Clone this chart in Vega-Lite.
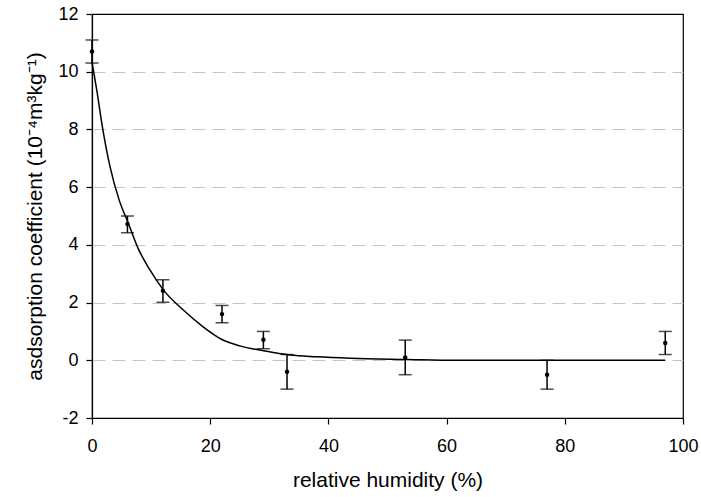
{
  "$schema": "https://vega.github.io/schema/vega-lite/v6.json",
  "width": 591,
  "height": 404,
  "autosize": {"type": "none"},
  "padding": {"left": 92, "top": 14, "right": 18, "bottom": 79},
  "background": "white",
  "config": {
    "view": {"stroke": "black", "strokeWidth": 1.2},
    "font": "Liberation Sans",
    "axis": {
      "labelFont": "Liberation Sans",
      "titleFont": "Liberation Sans",
      "labelColor": "black",
      "titleColor": "black",
      "titleFontWeight": "normal",
      "domainColor": "black",
      "domainWidth": 1.2,
      "tickColor": "black",
      "tickWidth": 1.2,
      "tickSize": 6
    }
  },
  "datasets": {
    "obs": [
      {"rh": 0, "k": 10.7, "lo": 10.3, "hi": 11.1},
      {"rh": 6, "k": 4.72, "lo": 4.42, "hi": 5.0},
      {"rh": 12, "k": 2.41, "lo": 2.01, "hi": 2.79},
      {"rh": 22, "k": 1.6, "lo": 1.3, "hi": 1.9},
      {"rh": 29, "k": 0.71, "lo": 0.4, "hi": 1.0},
      {"rh": 33, "k": -0.4, "lo": -1.0, "hi": 0.2},
      {"rh": 53, "k": 0.1, "lo": -0.5, "hi": 0.7},
      {"rh": 77, "k": -0.5, "lo": -1.0, "hi": 0.0},
      {"rh": 97, "k": 0.6, "lo": 0.2, "hi": 1.0}
    ],
    "fit": [
      {"rh": 0, "k": 10.33},
      {"rh": 0.8, "k": 9.37},
      {"rh": 1.8, "k": 8.04},
      {"rh": 3.05, "k": 6.71},
      {"rh": 4.6, "k": 5.55},
      {"rh": 6.15, "k": 4.75},
      {"rh": 7.8, "k": 3.88},
      {"rh": 9.8, "k": 3.13},
      {"rh": 12.07, "k": 2.44},
      {"rh": 15.45, "k": 1.74},
      {"rh": 18.8, "k": 1.16},
      {"rh": 21.9, "k": 0.73},
      {"rh": 25.0, "k": 0.5},
      {"rh": 29.0, "k": 0.33},
      {"rh": 33.5, "k": 0.18},
      {"rh": 38.0, "k": 0.12},
      {"rh": 43.7, "k": 0.07},
      {"rh": 53, "k": 0.03},
      {"rh": 62, "k": 0.0},
      {"rh": 77, "k": 0.0},
      {"rh": 97, "k": 0.0}
    ]
  },
  "encoding": {
    "x": {
      "field": "rh",
      "type": "quantitative",
      "scale": {"domain": [0, 100], "nice": false, "zero": false},
      "axis": {
        "title": "relative humidity (%)",
        "values": [0, 20, 40, 60, 80, 100],
        "grid": false,
        "labelFontSize": 18,
        "titleFontSize": 21,
        "labelPadding": 13,
        "titlePadding": 14,
        "labelFlush": false
      }
    },
    "y": {
      "field": "k",
      "type": "quantitative",
      "scale": {"domain": [-2, 12], "nice": false, "zero": false},
      "axis": {
        "title": "asdsorption coefficient (10⁻⁴m³kg⁻¹)",
        "values": [-2, 0, 2, 4, 6, 8, 10, 12],
        "labelExpr": "'' + datum.value",
        "grid": true,
        "gridColor": "#c4c4c4",
        "gridDash": [13, 7],
        "gridWidth": 1,
        "gridOpacity": {"condition": {"test": "datum.value == 12 || datum.value == -2", "value": 0}, "value": 1},
        "labelFontSize": 18,
        "titleFontSize": 21,
        "labelPadding": 8,
        "titlePadding": 12,
        "labelFlush": false
      }
    }
  },
  "layer": [
    {
      "data": {"name": "fit"},
      "mark": {"type": "line", "color": "black", "strokeWidth": 1.5, "interpolate": "monotone"}
    },
    {
      "data": {"name": "obs"},
      "mark": {"type": "rule", "color": "black", "strokeWidth": 1.5},
      "encoding": {"y": {"field": "lo", "type": "quantitative"}, "y2": {"field": "hi"}}
    },
    {
      "data": {"name": "obs"},
      "mark": {"type": "tick", "color": "black", "size": 13, "thickness": 1.5, "orient": "horizontal"},
      "encoding": {"y": {"field": "lo", "type": "quantitative"}}
    },
    {
      "data": {"name": "obs"},
      "mark": {"type": "tick", "color": "black", "size": 13, "thickness": 1.5, "orient": "horizontal"},
      "encoding": {"y": {"field": "hi", "type": "quantitative"}}
    },
    {
      "data": {"name": "obs"},
      "mark": {"type": "circle", "color": "black", "opacity": 1, "size": 20}
    }
  ]
}
